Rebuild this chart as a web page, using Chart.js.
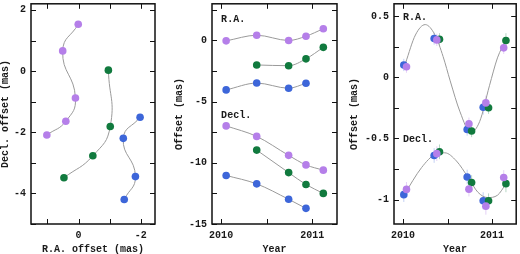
<!DOCTYPE html>
<html>
<head>
<meta charset="utf-8">
<script src="https://cdn.jsdelivr.net/npm/chart.js@4.4.1/dist/chart.umd.min.js"></script>
<style>
html, body { margin: 0; padding: 0; background: #fff; }
#wrap { position: relative; width: 520px; height: 254px; overflow: hidden; }
.panel { position: absolute; top: 0; height: 254px; }
</style>
</head>
<body>
<div id="wrap">
  <div class="panel" style="left:0"><canvas id="sky" width="165" height="254"></canvas></div>
  <div class="panel" style="left:170px"><canvas id="offsets" width="175" height="254"></canvas></div>
  <div class="panel" style="left:345px"><canvas id="parallax" width="175" height="254"></canvas></div>
</div>
<script>
// --- left panel: positions on the sky (mas)
const skyPurpleRA = [0.01, 0.51, 0.10, 0.41, 1.02];
const skyPurpleDec = [1.53, 0.66, -0.88, -1.64, -2.09];
const skyGreenRA = [-0.96, -1.02, -0.46, 0.47];
const skyGreenDec = [0.03, -1.81, -2.77, -3.49];
const skyBlueRA = [-1.98, -1.44, -1.83, -1.47];
const skyBlueDec = [-1.51, -2.20, -3.45, -4.20];

// --- middle panel: offsets vs time (mas)
const yearsPurple = [2010.055, 2010.39, 2010.74, 2010.93, 2011.12];
const yearsGreen = [2010.39, 2010.74, 2010.93, 2011.12];
const yearsBlue = [2010.055, 2010.39, 2010.74, 2010.93];
const raPurple = [-0.03, 0.43, 0.0, 0.35, 0.96];
const raGreen = [-2.0, -2.06, -1.5, -0.56];
const raBlue = [-4.04, -3.48, -3.9, -3.5];
const decPurple = [-6.98, -7.84, -9.39, -10.17, -10.6];
const decGreen = [-8.96, -10.8, -11.77, -12.5];
const decBlue = [-11.03, -11.72, -12.98, -13.72];

// --- right panel: parallax residuals (mas)
const pxYearsPurple = [2010.04, 2010.38, 2010.74, 2010.93, 2011.13];
const pxYearsGreen = [2010.41, 2010.77, 2010.96, 2011.155];
const pxYearsBlue = [2010.01, 2010.35, 2010.72, 2010.90];
const pxRaPurple = [0.086, 0.305, -0.38, -0.21, 0.24];
const pxRaGreen = [0.31, -0.44, -0.25, 0.30];
const pxRaBlue = [0.10, 0.316, -0.428, -0.246];
const pxDecPurple = [-0.917, -0.625, -0.915, -1.054, -0.82];
const pxDecGreen = [-0.61, -0.861, -1.01, -0.87];
const pxDecBlue = [-0.96, -0.64, -0.816, -1.01];
const pxRaErr = [0.05, 0.05, 0.05, 0.06, 0.05];
const pxDecErr = [0.06, 0.06, 0.06, 0.07, 0.06];
const modelYears = [2010.03, 2010.14, 2010.25, 2010.36, 2010.45, 2010.53, 2010.64, 2010.76, 2010.86, 2010.97, 2011.06, 2011.155];
const modelRA = [0.118, 0.345, 0.43, 0.345, 0.17, -0.03, -0.283, -0.452, -0.363, -0.07, 0.158, 0.305];
const modelDecYears = [2010.01, 2010.21, 2010.36, 2010.47, 2010.60, 2010.73, 2010.84, 2010.95, 2011.06, 2011.155];
const modelDec = [-0.965, -0.738, -0.631, -0.618, -0.685, -0.818, -0.94, -0.984, -0.965, -0.872];

const PURPLE = '#b57fe9';
const GREEN = '#117a3e';
const BLUE = '#3d66d9';
const CURVE = '#9a9a9a';

Chart.defaults.font.family = '"Liberation Mono", "DejaVu Sans Mono", monospace';
Chart.defaults.font.size = 10;
Chart.defaults.font.weight = 'bold';
Chart.defaults.color = '#1a1a1a';

const pts = (xs, ys) => xs.map((x, i) => ({ x: x, y: ys[i] }));

// box round the plot area with inward ticks on all four sides, plus text labels
const framePlugin = {
  id: 'frame',
  beforeDatasetsDraw(chart) {
    const { ctx, scales: { x, y } } = chart;
    ctx.save();
    ctx.lineWidth = 1;
    chart.data.datasets.forEach(ds => {
      if (!ds.errors) return;
      ctx.strokeStyle = ds.errColor;
      ds.data.forEach((p, i) => {
        const px = x.getPixelForValue(p.x);
        ctx.beginPath();
        ctx.moveTo(px, y.getPixelForValue(p.y - ds.errors[i]));
        ctx.lineTo(px, y.getPixelForValue(p.y + ds.errors[i]));
        ctx.stroke();
      });
    });
    ctx.restore();
  },
  afterDraw(chart, args, opts) {
    const { ctx, chartArea: a, scales: { x, y } } = chart;
    ctx.save();
    ctx.strokeStyle = '#111';
    ctx.lineWidth = 1;
    const len = 5;
    x.ticks.forEach(t => {
      const px = Math.round(x.getPixelForValue(t.value)) + 0.5;
      ctx.beginPath();
      ctx.moveTo(px, a.bottom); ctx.lineTo(px, a.bottom - len);
      ctx.moveTo(px, a.top); ctx.lineTo(px, a.top + len);
      ctx.stroke();
    });
    y.ticks.forEach(t => {
      const py = Math.round(y.getPixelForValue(t.value)) + 0.5;
      ctx.beginPath();
      ctx.moveTo(a.left, py); ctx.lineTo(a.left + len, py);
      ctx.moveTo(a.right, py); ctx.lineTo(a.right - len, py);
      ctx.stroke();
    });
    ctx.lineWidth = 1.5;
    ctx.strokeRect(a.left, a.top, a.right - a.left, a.bottom - a.top);
    ctx.fillStyle = '#1a1a1a';
    ctx.font = 'bold 10px "Liberation Mono", monospace';
    ctx.textAlign = 'left';
    ctx.textBaseline = 'middle';
    (opts.labels || []).forEach(l => {
      ctx.fillText(l.text, x.getPixelForValue(l.x), y.getPixelForValue(l.y));
    });
    ctx.restore();
  }
};

function fixedAxis(size) {
  return scale => {
    if (scale.isHorizontal()) scale.height = size; else scale.width = size;
    scale.paddingLeft = 0; scale.paddingRight = 0;
    scale.paddingTop = 0; scale.paddingBottom = 0;
  };
}

function axis(min, max, step, labelEvery, fit, title, titlePad, reverse) {
  return {
    type: 'linear', min: min, max: max, reverse: !!reverse,
    grid: { display: false, drawTicks: false },
    border: { display: false },
    ticks: {
      stepSize: step, includeBounds: false, autoSkip: false, maxRotation: 0, padding: 5,
      callback: v => {
        const r = Math.round(v * 1000) / 1000;
        return Math.abs(r / labelEvery - Math.round(r / labelEvery)) < 1e-6 ? String(r) : '';
      }
    },
    title: { display: true, text: title, padding: titlePad, font: { size: 10, lineHeight: 1.0 } },
    afterFit: fixedAxis(fit)
  };
}

function pointSet(data, color, line, extra) {
  return Object.assign({
    data: data, showLine: line, borderColor: CURVE, borderWidth: 1,
    pointRadius: 3.8, pointBackgroundColor: color, pointBorderWidth: 0,
    pointHoverRadius: 3.8
  }, extra || {});
}

const common = {
  responsive: false, animation: false, events: [],
  plugins: { legend: { display: false }, tooltip: { enabled: false } }
};

new Chart(document.getElementById('sky'), {
  type: 'scatter',
  data: {
    datasets: [
      pointSet(pts(skyPurpleRA, skyPurpleDec), PURPLE, true, { tension: 0.5 }),
      pointSet(pts(skyGreenRA, skyGreenDec), GREEN, true, { tension: 0.5 }),
      pointSet(pts(skyBlueRA, skyBlueDec), BLUE, true, { tension: 0.5 })
    ]
  },
  options: Object.assign({}, common, {
    layout: { padding: { left: 0, right: 10, top: 0, bottom: 0 } },
    scales: {
      x: axis(-2.46, 1.53, 1, 2, 30, 'R.A. offset (mas)', { bottom: 0 }, true),
      y: axis(-5, 2.2, 1, 2, 31, 'Decl. offset (mas)', { top: 0 })
    },
    plugins: Object.assign({}, common.plugins, { frame: { labels: [] } })
  }),
  plugins: [framePlugin]
});

new Chart(document.getElementById('offsets'), {
  type: 'scatter',
  data: {
    datasets: [
      pointSet(pts(yearsPurple, raPurple), PURPLE, true, { cubicInterpolationMode: 'monotone' }),
      pointSet(pts(yearsGreen, raGreen), GREEN, true, { cubicInterpolationMode: 'monotone' }),
      pointSet(pts(yearsBlue, raBlue), BLUE, true, { cubicInterpolationMode: 'monotone' }),
      pointSet(pts(yearsPurple, decPurple), PURPLE, true, { cubicInterpolationMode: 'monotone' }),
      pointSet(pts(yearsGreen, decGreen), GREEN, true, { cubicInterpolationMode: 'monotone' }),
      pointSet(pts(yearsBlue, decBlue), BLUE, true, { cubicInterpolationMode: 'monotone' })
    ]
  },
  options: Object.assign({}, common, {
    layout: { padding: { left: 0, right: 8, top: 0, bottom: 0 } },
    scales: {
      x: axis(2009.9, 2011.27, 0.5, 1, 30, 'Year', { bottom: 0 }),
      y: axis(-15, 3, 2.5, 5, 42, 'Offset (mas)', { top: 4 })
    },
    plugins: Object.assign({}, common.plugins, {
      frame: { labels: [{ text: 'R.A.', x: 2010.0, y: 1.73 }, { text: 'Decl.', x: 2010.0, y: -6.1 }] }
    })
  }),
  plugins: [framePlugin]
});

new Chart(document.getElementById('parallax'), {
  type: 'scatter',
  data: {
    datasets: [
      pointSet(pts(pxYearsPurple, pxRaPurple), PURPLE, false, { errors: pxRaErr, errColor: 'rgba(181,127,233,0.35)' }),
      pointSet(pts(pxYearsGreen, pxRaGreen), GREEN, false, { errors: pxRaErr, errColor: 'rgba(17,122,62,0.3)' }),
      pointSet(pts(pxYearsBlue, pxRaBlue), BLUE, false, { errors: pxRaErr, errColor: 'rgba(61,102,217,0.3)' }),
      pointSet(pts(pxYearsPurple, pxDecPurple), PURPLE, false, { errors: pxDecErr, errColor: 'rgba(181,127,233,0.35)' }),
      pointSet(pts(pxYearsGreen, pxDecGreen), GREEN, false, { errors: pxDecErr, errColor: 'rgba(17,122,62,0.3)' }),
      pointSet(pts(pxYearsBlue, pxDecBlue), BLUE, false, { errors: pxDecErr, errColor: 'rgba(61,102,217,0.3)' }),
      pointSet(pts(modelYears, modelRA), CURVE, true, { pointRadius: 0, cubicInterpolationMode: 'monotone' }),
      pointSet(pts(modelDecYears, modelDec), CURVE, true, { pointRadius: 0, cubicInterpolationMode: 'monotone' })
    ]
  },
  options: Object.assign({}, common, {
    layout: { padding: { left: 0, right: 2, top: 0, bottom: 0 } },
    scales: {
      x: axis(2009.9, 2011.27, 0.5, 1, 30, 'Year', { bottom: 0 }),
      y: axis(-1.2, 0.6, 0.25, 0.5, 49, 'Offset (mas)', { top: 4 })
    },
    plugins: Object.assign({}, common.plugins, {
      frame: { labels: [{ text: 'R.A.', x: 2010.0, y: 0.49 }, { text: 'Decl.', x: 2010.0, y: -0.506 }] }
    })
  }),
  plugins: [framePlugin]
});
</script>
</body>
</html>
